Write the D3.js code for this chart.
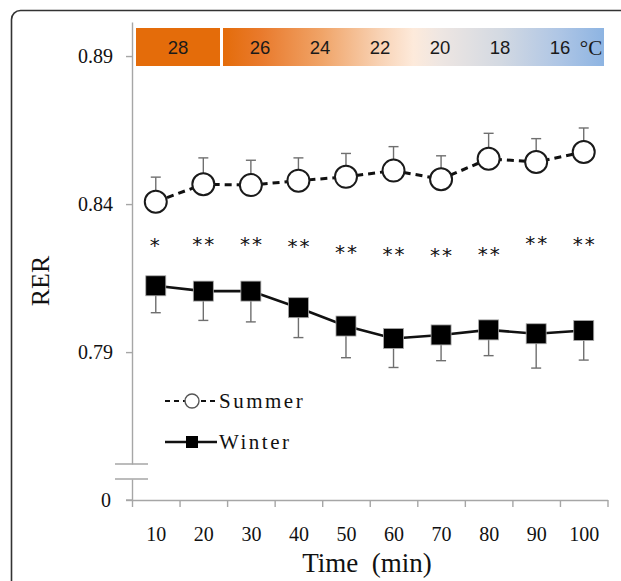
<!DOCTYPE html>
<html>
<head>
<meta charset="utf-8">
<script src="https://cdn.jsdelivr.net/npm/d3@7/dist/d3.min.js"></script>
<style>
  html, body { margin: 0; padding: 0; background: #fff; }
  svg { display: block; }
</style>
</head>
<body>
<script>
// data
const times = [10, 20, 30, 40, 50, 60, 70, 80, 90, 100];
const summer = [0.8408, 0.8467, 0.8464, 0.8479, 0.8492, 0.8513, 0.8484, 0.8553, 0.8542, 0.8576];
const summerErr = [0.0083, 0.0089, 0.0084, 0.0077, 0.0079, 0.0081, 0.0079, 0.0086, 0.0079, 0.0081];
const winter = [0.8124, 0.8106, 0.8106, 0.8050, 0.7988, 0.7946, 0.7958, 0.7975, 0.7962, 0.7973];
const winterErr = [0.0091, 0.0099, 0.0104, 0.0101, 0.0107, 0.0098, 0.0087, 0.0087, 0.0116, 0.0100];
const sigMarks = ["*", "**", "**", "**", "**", "**", "**", "**", "**", "**"];
const sigLevel = [0.8278, 0.8281, 0.8281, 0.8275, 0.8254, 0.8249, 0.8245, 0.8248, 0.8284, 0.8281];
const yTicks = [0.79, 0.84, 0.89];
const tempFirst = 28;
const temps = [26, 24, 22, 20, 18, 16];

const width = 621, height = 581;
const serif = "'Liberation Serif', 'Times New Roman', serif";
const sans = "'Liberation Sans', Arial, sans-serif";

const svg = d3.select("body").append("svg")
    .attr("width", width)
    .attr("height", height);

// rounded frame
svg.append("rect")
    .attr("x", 11.5).attr("y", 10.5)
    .attr("width", 700).attr("height", 700)
    .attr("rx", 9)
    .attr("fill", "none")
    .attr("stroke", "#333")
    .attr("stroke-width", 1.6);

const x = d3.scaleLinear().domain([5, 105]).range([132, 607.5]);
const y = d3.scaleLinear().domain([0.7522, 0.9015]).range([464, 22]);
const y0 = d3.scaleLinear().domain([0, 1]).range([500, 479]);

const axisColor = "#a6a6a6";

// upper y axis
const yAxis = svg.append("g")
    .attr("transform", "translate(132,0)")
    .call(d3.axisLeft(y).tickValues(yTicks).tickSize(6).tickPadding(13)
        .tickFormat(d3.format(".2f")).tickSizeOuter(0));
// lower y axis segment with 0
const yAxis0 = svg.append("g")
    .attr("transform", "translate(132,0)")
    .call(d3.axisLeft(y0).tickValues([0]).tickSize(6).tickPadding(15)
        .tickFormat(d3.format("d")).tickSizeOuter(0));

// x axis: ticks at category boundaries, labels at the centres
const xAxis = svg.append("g")
    .attr("transform", "translate(0,500)")
    .call(d3.axisBottom(x).tickValues(d3.range(5, 106, 10)).tickSize(7)
        .tickFormat("").tickSizeOuter(0));
const xLabels = svg.append("g")
    .attr("transform", "translate(0,500)")
    .call(d3.axisBottom(x).tickValues(times).tickSize(0).tickPadding(27));
xLabels.select(".domain").remove();

[yAxis, yAxis0, xAxis, xLabels].forEach(g => {
  g.attr("font-family", serif);
  g.selectAll("path, line").attr("stroke", axisColor).attr("stroke-width", 1.4);
  g.selectAll("text").attr("fill", "#111").attr("font-family", serif).attr("font-size", 20);
});

// x axis extends left to the zero tick
svg.append("line")
    .attr("x1", 126).attr("x2", 132)
    .attr("y1", 500).attr("y2", 500)
    .attr("stroke", axisColor).attr("stroke-width", 1.4);

// axis break marks
svg.selectAll(".brk").data([0.7522, 1]).enter().append("line")
    .attr("x1", 115).attr("x2", 148)
    .attr("y1", (d, i) => i === 0 ? y(d) : y0(d))
    .attr("y2", (d, i) => i === 0 ? y(d) : y0(d))
    .attr("stroke", axisColor).attr("stroke-width", 1.6);

// axis titles
svg.append("text")
    .attr("transform", "translate(49,281) rotate(-90)")
    .attr("text-anchor", "middle")
    .attr("font-family", serif).attr("font-size", 26)
    .attr("fill", "#111")
    .text("RER");
svg.append("text")
    .attr("x", 367).attr("y", 572)
    .attr("text-anchor", "middle")
    .attr("font-family", serif).attr("font-size", 27)
    .attr("fill", "#111")
    .style("white-space", "pre")
    .text("Time  (min)");

// temperature bar
const defs = svg.append("defs");
const grad = defs.append("linearGradient").attr("id", "tempGrad");
[[0, "#e46c0a"], [0.1, "#e97a2c"], [0.26, "#f0a468"], [0.41, "#f8d2b4"],
 [0.5, "#fdeadb"], [0.57, "#eee6e2"], [0.73, "#d3d9e2"], [0.88, "#afc6e5"], [1, "#8db4e2"]]
  .forEach(s => grad.append("stop").attr("offset", s[0]).attr("stop-color", s[1]));

svg.append("rect")
    .attr("x", 136).attr("y", 28).attr("width", 84).attr("height", 38)
    .attr("fill", "#e46c0a");
svg.append("rect")
    .attr("x", 223).attr("y", 28).attr("width", 381).attr("height", 38)
    .attr("fill", "url(#tempGrad)");

const tx = d3.scaleLinear().domain([26, 16]).range([260, 560]);
svg.append("text")
    .attr("x", 178).attr("y", 54)
    .attr("text-anchor", "middle")
    .attr("font-family", sans).attr("font-size", 18.5)
    .attr("fill", "#1a1a1a")
    .text(tempFirst);
svg.selectAll(".temp").data(temps).enter().append("text")
    .attr("x", d => tx(d)).attr("y", 54)
    .attr("text-anchor", "middle")
    .attr("font-family", sans).attr("font-size", 18.5)
    .attr("fill", "#1a1a1a")
    .text(d => d);
svg.append("text")
    .attr("x", 591).attr("y", 55)
    .attr("text-anchor", "middle")
    .attr("font-family", serif).attr("font-size", 21)
    .attr("fill", "#1a1a1a")
    .text("°C");

// error bars
const errColor = "#6f6f6f", cap = 5;
function errorBars(vals, errs, dir) {
  const g = svg.append("g");
  vals.forEach((v, i) => {
    const cx = x(times[i]);
    const yEnd = y(v + dir * errs[i]);
    g.append("line").attr("x1", cx).attr("x2", cx).attr("y1", y(v)).attr("y2", yEnd)
        .attr("stroke", errColor).attr("stroke-width", 1.4);
    g.append("line").attr("x1", cx - cap).attr("x2", cx + cap).attr("y1", yEnd).attr("y2", yEnd)
        .attr("stroke", errColor).attr("stroke-width", 1.4);
  });
}
errorBars(summer, summerErr, 1);
errorBars(winter, winterErr, -1);

// lines
const line = d3.line().x((d, i) => x(times[i])).y(d => y(d));
svg.append("path").datum(summer)
    .attr("d", line).attr("fill", "none")
    .attr("stroke", "#111").attr("stroke-width", 3)
    .attr("stroke-dasharray", "7,5");
svg.append("path").datum(winter)
    .attr("d", line).attr("fill", "none")
    .attr("stroke", "#111").attr("stroke-width", 2.6);

// markers
svg.selectAll(".sm").data(summer).enter().append("circle")
    .attr("cx", (d, i) => x(times[i])).attr("cy", d => y(d))
    .attr("r", 11)
    .attr("fill", "#fff").attr("stroke", "#1a1a1a").attr("stroke-width", 2);
svg.selectAll(".wm").data(winter).enter().append("rect")
    .attr("x", (d, i) => x(times[i]) - 10).attr("y", d => y(d) - 10)
    .attr("width", 20).attr("height", 20)
    .attr("fill", "#000").attr("stroke", "#aaa").attr("stroke-width", 0.8);

// significance marks
svg.selectAll(".sig").data(sigMarks).enter().append("text")
    .attr("x", (d, i) => x(times[i]) + (d.length > 1 ? 1 : 0))
    .attr("y", (d, i) => y(sigLevel[i]) + 12)
    .attr("text-anchor", "middle")
    .attr("font-family", "'DejaVu Sans', sans-serif").attr("font-size", 20)
    .attr("letter-spacing", 2)
    .attr("fill", "#111")
    .text(d => d);

// legend
const legend = svg.append("g");
const sRow = legend.append("g").attr("transform", "translate(0,401)");
sRow.append("line").attr("x1", 165).attr("x2", 217).attr("y1", 0).attr("y2", 0)
    .attr("stroke", "#111").attr("stroke-width", 2).attr("stroke-dasharray", "5,4");
sRow.append("circle").attr("cx", 192).attr("cy", 0).attr("r", 7)
    .attr("fill", "#fff").attr("stroke", "#555").attr("stroke-width", 1.4);
sRow.append("text").attr("x", 219).attr("y", 7)
    .attr("font-family", serif).attr("font-size", 21).attr("letter-spacing", 2.5).attr("fill", "#111")
    .text("Summer");

const wRow = legend.append("g").attr("transform", "translate(0,442)");
wRow.append("line").attr("x1", 165).attr("x2", 217).attr("y1", 0).attr("y2", 0)
    .attr("stroke", "#111").attr("stroke-width", 2.4);
wRow.append("rect").attr("x", 186).attr("y", -6).attr("width", 12).attr("height", 12)
    .attr("fill", "#000");
wRow.append("text").attr("x", 219).attr("y", 7)
    .attr("font-family", serif).attr("font-size", 21).attr("letter-spacing", 2.5).attr("fill", "#111")
    .text("Winter");
</script>
</body>
</html>
